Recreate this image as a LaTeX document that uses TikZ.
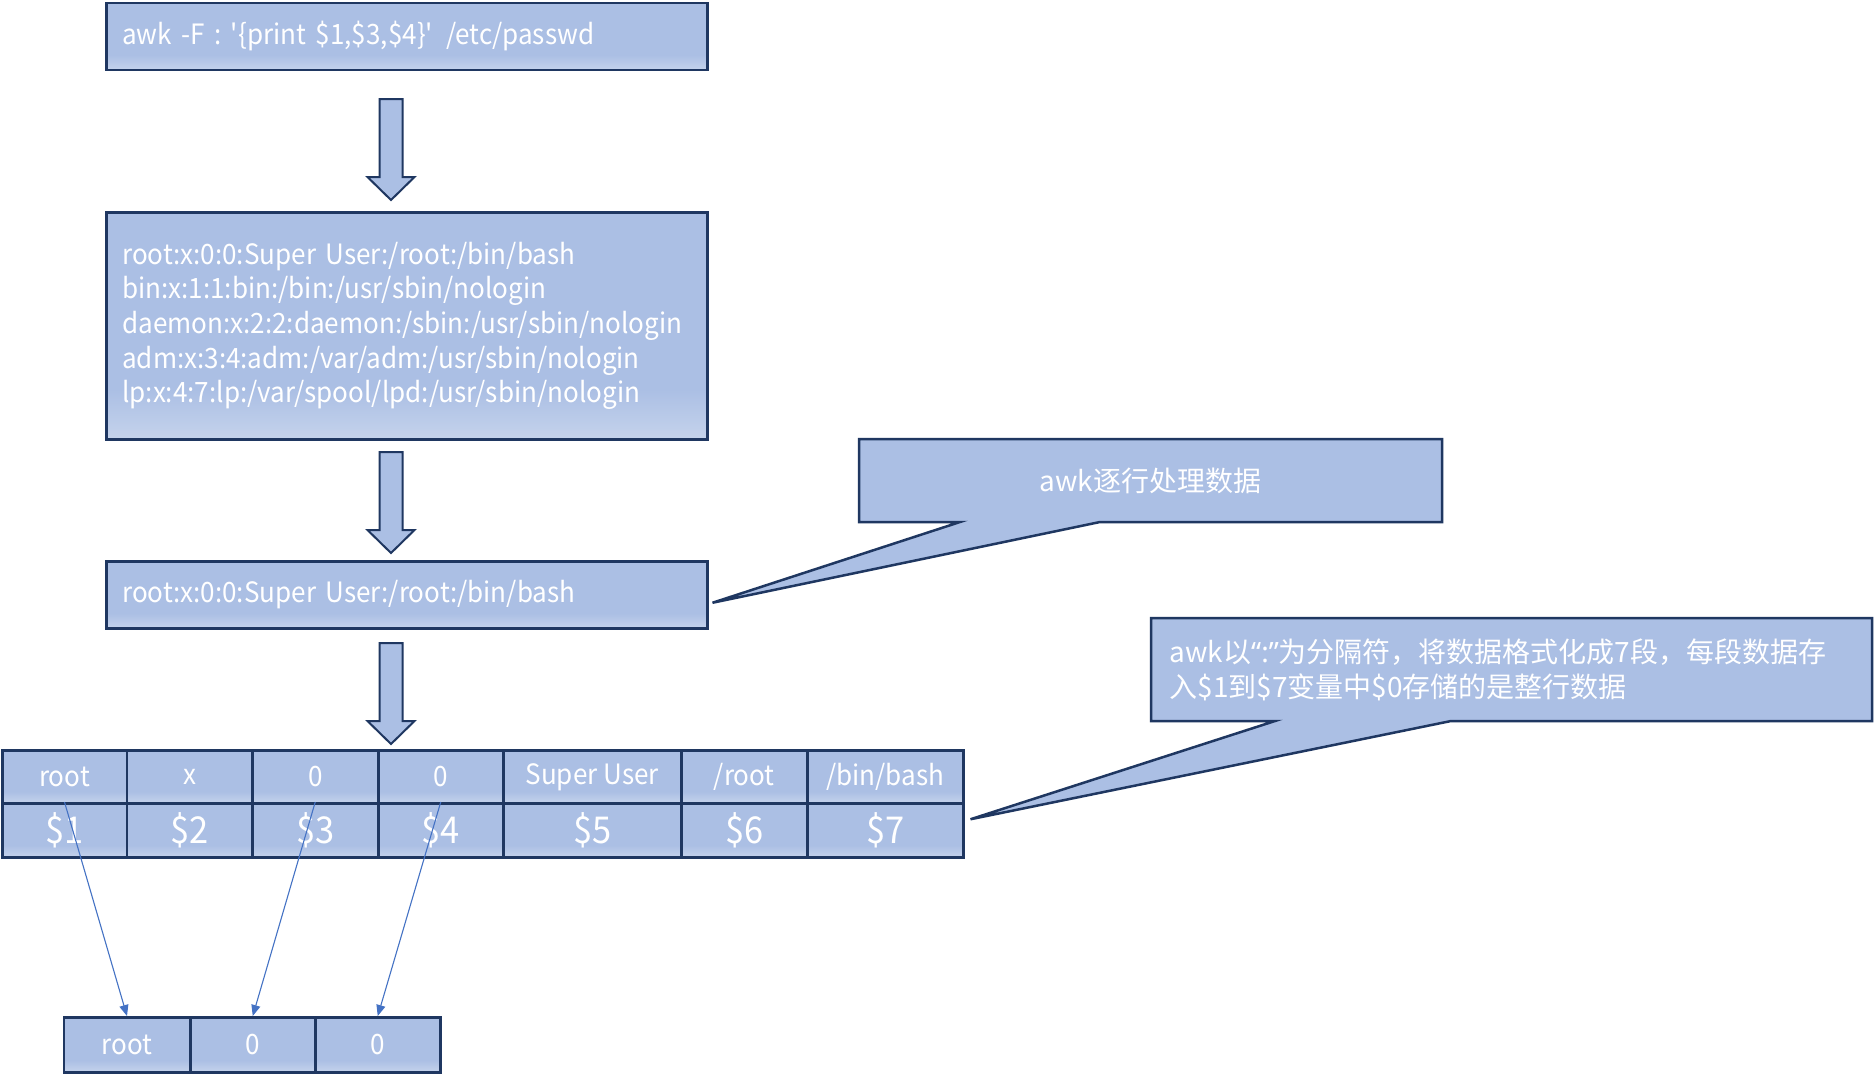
\documentclass[tikz,border=0pt]{standalone}
\usepackage{fontspec}
\setmainfont{Noto Sans CJK SC}
\newfontfamily\narrowfont{Noto Sans CJK SC}[FakeStretch=0.93]
\newfontfamily\quotefont{Noto Sans}
\usetikzlibrary{calc,arrows.meta}

\definecolor{boxfill}{HTML}{ABBFE4}
\definecolor{boxlow}{HTML}{C5D3EC}
\definecolor{boxline}{HTML}{1F3761}
\definecolor{thinblue}{HTML}{4472C4}
\pgfdeclareverticalshading{boxshade}{100bp}{color(0bp)=(boxlow); color(25bp)=(boxlow); color(36bp)=(boxfill); color(100bp)=(boxfill)}

\tikzset{
	box/.style={draw=boxline,line width=2.5pt,shading=boxshade,text=white,anchor=north west,inner ysep=0pt,
		font=\narrowfont\fontsize{28}{34.7}\selectfont},
	textbox/.style={box,inner xsep=16pt,text width=569pt,align=left},
	cell/.style={box,inner xsep=0pt},
	callout/.style={draw=boxline,line width=2.5pt,fill=boxfill},
	notetext/.style={text=white,font=\fontsize{28}{35}\selectfont,align=left},
	fatarrow/.style={draw=boxline,line width=2pt,fill=boxfill,line join=miter},
	thinarrow/.style={draw=thinblue,line width=1.1pt,-{Triangle[length=11pt,width=9pt]}}
}

\begin{document}
\begin{tikzpicture}[x=1pt,y=-1pt]
	\fill[white] (0,0) rectangle (1874,1080);
	\useasboundingbox (0,0) rectangle (1874,1080);

	% command, input, current line
	\node[textbox,minimum height=67pt] (cmd) at (105,1.5) {awk -F : \textquotesingle\{print \$1,\$3,\$4\}\textquotesingle\hspace{0.45em}/etc/passwd};
	\node[textbox,minimum height=227pt] (lines) at (105,211) {root:x:0:0:Super User:/root:/bin/bash\\
		bin:x:1:1:bin:/bin:/usr/sbin/nologin\\
		daemon:x:2:2:daemon:/sbin:/usr/sbin/nologin\\
		adm:x:3:4:adm:/var/adm:/usr/sbin/nologin\\
		lp:x:4:7:lp:/var/spool/lpd:/usr/sbin/nologin};
	\node[textbox,minimum height=67pt] (line) at (105,560) {root:x:0:0:Super User:/root:/bin/bash};

	\foreach \y in {99,452,643}
		\draw[fatarrow] (379.5,\y) -- ++(23,0) -- ++(0,78) -- ++(12,0) -- ++(-23.5,23) -- ++(-23.5,-23) -- ++(12,0) -- cycle;

	% fields
	\foreach \x/\w/\t [count=\i] in {1/124.5/root,125.5/125.5/x,251/126/0,377/125/0,502/178/{Super User},680/126/{/root},806/156/{/bin/bash}} {
		\node[cell,minimum width=\w pt,minimum height=53pt] (f\i) at (\x,749) {\t};
		\node[cell,minimum width=\w pt,minimum height=54pt,font=\narrowfont\fontsize{37}{40}\selectfont] (d\i) at (\x,802) {\$\i};
	}

	% result
	\foreach \x/\w/\t [count=\i] in {62.5/126.5/root,189/125/0,314/125/0}
		\node[cell,minimum width=\w pt,minimum height=55pt] (o\i) at (\x,1016) {\t};

	\draw[thinarrow] (d1.north) -- (o1.north);
	\draw[thinarrow] (d3.north) -- (o2.north);
	\draw[thinarrow] (d4.north) -- (o3.north);

	% notes
	\coordinate (tip1) at ($(line.east)+(4,8)$);
	\draw[callout] (859,439) -- (1442,439) -- (1442,522) -- (1100,522) -- (tip1) -- (960,522) -- (859,522) -- cycle;
	\node[notetext] (note1) at (1150.5,481) {awk逐行处理数据};

	\coordinate (tip2) at ($(d7.east)+(6,-11)$);
	\draw[callout] (1151,618) -- (1872,618) -- (1872,721) -- (1451,721) -- (tip2) -- (1275,721) -- (1151,721) -- cycle;
	\node[notetext,anchor=west] (note2) at (1166,670) {awk以{\quotefont“:”}为分隔符，将数据格式化成7段，每段数据存\\入\$1到\$7变量中\$0存储的是整行数据};
\end{tikzpicture}
\end{document}
